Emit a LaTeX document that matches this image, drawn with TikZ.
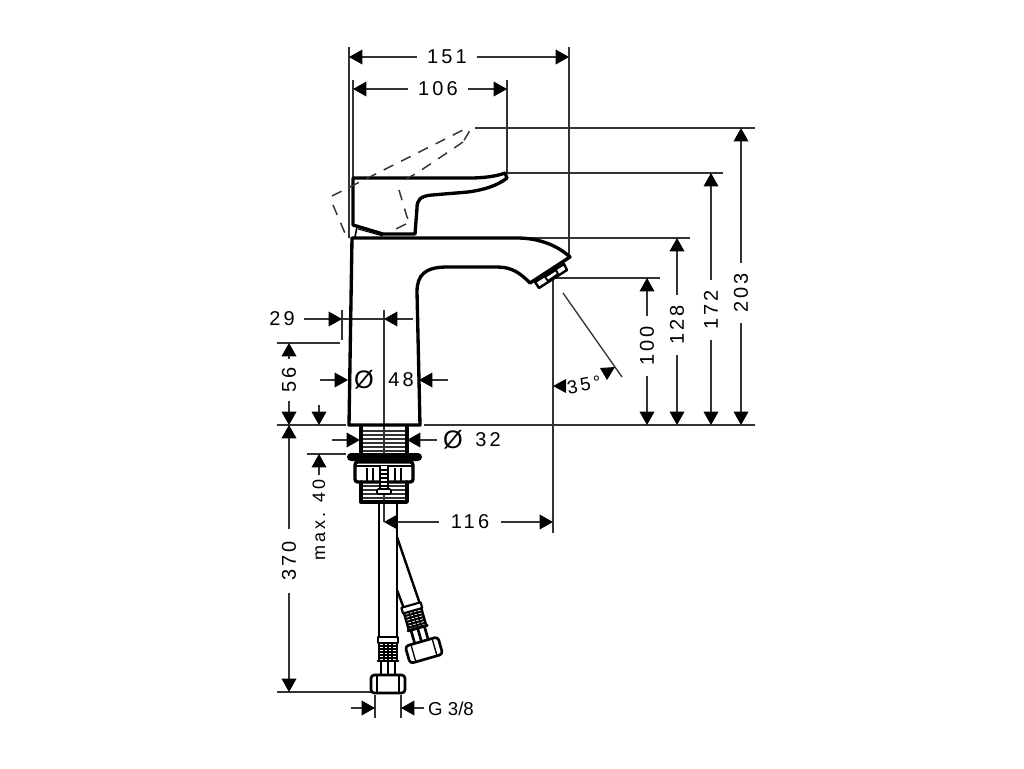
\documentclass[tikz,border=0pt]{standalone}
\usepackage{fontspec}
\setmainfont[LetterSpace=16]{Liberation Sans}
\newfontfamily\plainfont{Liberation Sans}
\usetikzlibrary{arrows.meta}
\definecolor{dimgray}{HTML}{333333}
\tikzset{
 x=0.75pt,y=-0.75pt,
 outline/.style={line width=2.5pt,line join=round,line cap=round,black},
 thinpart/.style={line width=0.8pt,black},
 hatch/.style={line width=0.8pt,dimgray},
 thin dim/.style={line width=1pt,dimgray},
 dimline/.style={thin dim,-{Triangle[length=10pt,width=11pt,color=black]}},
 ghost/.style={line width=1.1pt,dimgray,dash pattern=on 8pt off 6.5pt},
 lbl/.style={font=\fontsize{15pt}{17pt}\selectfont,inner sep=0pt,text=black},
 lblv/.style={lbl,rotate=90},
 fitting/.pic={
  \draw[outline,line width=1.6pt,fill=white] (-10,0) -- (10,0) -- (10,6) -- (-10,6) -- cycle;
  \draw[outline,line width=1.8pt] (-9,6) -- (-9,24) (9,6) -- (9,24);
  \foreach \yy in {9,12,15,18,21} \draw[line width=1.5pt] (-9,\yy) -- (9,\yy);
  \foreach \xx in {-4,0,4} \draw[line width=1pt] (\xx,6) -- (\xx,24);
  \draw[outline,line width=2.2pt] (-10,24) -- (10,24);
  \draw[outline,line width=2pt] (-7,24) -- (-7,38) (7,24) -- (7,38) (0,24)--(0,38);
  \draw[outline,line width=2pt,fill=white,rounded corners=2.5pt] (-17,38) rectangle (17,56);
  \draw[line width=1pt] (-11,38) -- (-11,56) (11,38) -- (11,56);
 }
}
\begin{document}
\begin{tikzpicture}
\useasboundingbox (0,0) rectangle (1024,768);
% named ends of the dimension lines
\coordinate (a151l) at (349,57); \coordinate (a151r) at (569,57);
\coordinate (a106l) at (353,89); \coordinate (a106r) at (507,89);
\coordinate (a203t) at (741,128); \coordinate (a203b) at (741,425);
\coordinate (a172t) at (711,173); \coordinate (a172b) at (711,425);
\coordinate (a128t) at (677,238); \coordinate (a128b) at (677,425);
\coordinate (a100t) at (647,278); \coordinate (a100b) at (647,425);
\coordinate (a29l) at (342,319); \coordinate (a29r) at (384,319);
\coordinate (a29le) at (304,319); \coordinate (a29re) at (413,319);
\coordinate (a56t) at (289,343); \coordinate (a56b) at (289,425);
\coordinate (a370t) at (289,425); \coordinate (a370b) at (289,692);
\coordinate (a40te) at (319,405); \coordinate (a40t) at (319,425); \coordinate (a40b) at (319,454);
\coordinate (a48l) at (348,380); \coordinate (a48r) at (419,380);
\coordinate (a48le) at (320,380); \coordinate (a48re) at (448,380);
\coordinate (a32l) at (360,440); \coordinate (a32r) at (407,440);
\coordinate (a32le) at (332,440); \coordinate (a32re) at (437,440);
\coordinate (a116l) at (384,522); \coordinate (a116r) at (553,522);
\coordinate (g38l) at (375,708); \coordinate (g38r) at (401,708);
\coordinate (g38le) at (351,708); \coordinate (g38re) at (424,708);

% extension lines
\draw[thin dim] (349,47) -- (349,238);
\draw[thin dim] (569,47) -- (569,256);
\draw[thin dim] (353,80) -- (353,178);
\draw[thin dim] (507,80) -- (507,174);
\draw[thin dim] (475,128) -- (755,128);
\draw[thin dim] (507,173) -- (723,173);
\draw[thin dim] (517,238) -- (690,238);
\draw[thin dim] (553,278) -- (660,278);
\draw[thin dim] (553,278) -- (553,533);
\draw[thin dim] (277,425) -- (346,425);
\draw[thin dim] (424,425) -- (755,425);
\draw[thin dim] (277,343) -- (340,343);
\draw[thin dim] (342,310) -- (342,340);
\draw[thin dim] (384,310) -- (384,522);
\draw[thin dim] (342,319) -- (384,319);
\draw[thin dim] (307,454) -- (346,454);
\draw[thin dim] (277,692) -- (372,692);
\draw[thin dim] (375,695) -- (375,718);
\draw[thin dim] (401,695) -- (401,718);
\draw[thin dim] (563,293) -- (622,377);

% body
\draw[outline] (349,425) -- (352,238) -- (517,238)
  .. controls (540,238) and (558,246) .. (570,257) -- (530,283)
  .. controls (520,273) and (512,267) .. (497,267) -- (447,267)
  .. controls (425,267) and (417,275) .. (417,292) -- (420,425) -- cycle;
% lever
\draw[outline,fill=white] (353,178) -- (470,178)
  .. controls (485,178) and (497,176) .. (505,173) -- (507,178)
  .. controls (497,186) and (483,190) .. (468,192)
  -- (432,195) .. controls (420,196) and (417,200) .. (417,208)
  -- (415,234) -- (383,234) -- (353,225) -- cycle;
\draw[line width=1.2pt] (357,227) -- (355,237);
\draw[thinpart] (358,229) -- (383,236);
% ghost lever
\draw[ghost] (332,196) -- (467,128) -- (469,132) -- (463,142);
\draw[ghost] (463,142) -- (417,173) -- (399,183);
\draw[ghost] (399,190) -- (407,217) -- (410,222) -- (392,231);
\draw[ghost] (333,205) -- (347,238) -- (351,238);
% aerator
\draw[outline,line width=1.8pt,fill=white] (535,282) -- (564,264) -- (567,270) -- (539,288) -- cycle;
\draw[outline,line width=1.4pt,fill=white] (545,277) -- (556,270) -- (558,274) -- (548,281) -- cycle;

% shank
\fill[white] (361,427) rectangle (407,453);
\foreach \yy in {431,435,439,443,447,451} \draw[hatch] (361,\yy) -- (407,\yy);
\draw[thin dim] (384,427) -- (384,453);
\draw[outline] (361,427) -- (361,453) (407,427) -- (407,453);
% flange
\fill[black,rounded corners=3pt] (347,453) rectangle (422,461);
% nut
\draw[outline,fill=white,rounded corners=2pt] (355,462) rectangle (413,482);
\draw[line width=1.2pt] (355,466) -- (413,466);
\draw[line width=1pt] (367,468) -- (367,482) (373,468) -- (373,482)
  (395,468) -- (395,482) (401,468) -- (401,482);
% lower thread
\foreach \yy in {486,490,494,498} \draw[hatch] (361,\yy) -- (407,\yy);
\draw[outline] (361,482) -- (361,502) -- (407,502) -- (407,482);
% screw
\fill[white] (380,466) rectangle (388,489);
\draw[thinpart] (380,466) -- (380,489) (388,466) -- (388,489);
\foreach \yy in {470,474,478,482,486} \draw[thinpart] (380,\yy) -- (388,\yy);
\draw[outline,line width=1.2pt,fill=white,rounded corners=1pt] (377,489) rectangle (391,494);
% pipes
\draw[outline,line width=1.8pt] (379,503) -- (379,637) (397,503) -- (397,637);
\draw[outline,line width=1.8pt] (397,537) -- (420,604);
\draw[outline,line width=1.8pt] (397,590) -- (403,606);
\pic at (388,637) {fitting};
\pic[shift={(411,605)},rotate=16] at (0,0) {fitting};

% dimensions
\node[lbl] (n151) at (447,57) {151};
\draw[dimline] (417,57) -- (a151l);
\draw[dimline] (477,57) -- (a151r);
\node[lbl] (n106) at (438,89) {106};
\draw[dimline] (408,89) -- (a106l);
\draw[dimline] (468,89) -- (a106r);

\node[lblv] (n203) at (741,293) {203};
\draw[dimline] (n203.east) ++(0,-10) -- (a203t);
\draw[dimline] (n203.west) ++(0,10) -- (a203b);
\node[lblv] (n172) at (711,310) {172};
\draw[dimline] (n172.east) ++(0,-10) -- (a172t);
\draw[dimline] (n172.west) ++(0,10) -- (a172b);
\node[lblv] (n128) at (677,325) {128};
\draw[dimline] (n128.east) ++(0,-10) -- (a128t);
\draw[dimline] (n128.west) ++(0,10) -- (a128b);
\node[lblv] (n100) at (647,346) {100};
\draw[dimline] (n100.east) ++(0,-10) -- (a100t);
\draw[dimline] (n100.west) ++(0,10) -- (a100b);

\node[lbl] (n29) at (282,319) {29};
\draw[dimline] (a29le) -- (a29l);
\draw[dimline] (a29re) -- (a29r);
\node[lblv] (n56) at (289,380) {56};
\draw[dimline] (n56.east) ++(0,-8) -- (a56t);
\draw[dimline] (n56.west) ++(0,8) -- (a56b);
\node[lblv] (n370) at (289,561) {370};
\draw[dimline] (n370.east) ++(0,-12) -- (a370t);
\draw[dimline] (n370.west) ++(0,12) -- (a370b);
\node[lblv,font=\fontsize{13.5pt}{15pt}\selectfont] (n40) at (319,520) {max. 40};
\draw[dimline] (a40te) -- (a40t);
\draw[dimline] (319,475) -- (a40b);

\node[lbl,font=\plainfont\fontsize{19pt}{20pt}\selectfont] (n48o) at (364,380) {Ø};
\node[lbl] (n48) at (401,380) {48};
\draw[dimline] (a48le) -- (a48l);
\draw[dimline] (a48re) -- (a48r);
\node[lbl,font=\plainfont\fontsize{19pt}{20pt}\selectfont] (n32o) at (453,440) {Ø};
\node[lbl] (n32) at (488,440) {32};
\draw[dimline] (a32le) -- (a32l);
\draw[dimline] (a32re) -- (a32r);

\node[lbl] (n116) at (470,522) {116};
\draw[dimline] (n116.west) ++(-12,0) -- (a116l);
\draw[dimline] (n116.east) ++(12,0) -- (a116r);

\node[lbl,rotate=10,font=\fontsize{14pt}{16pt}\selectfont] (n35) at (584,385) {35°};
\fill[black] (553,386) -- (566,379) -- (566,393) -- cycle;
\fill[black] (600,368) -- (615,367) -- (607,380) -- cycle;

\node[lbl,font=\plainfont\fontsize{14pt}{16pt}\selectfont] (ng) at (451,709) {G 3/8};
\draw[dimline] (g38le) -- (g38l);
\draw[dimline] (g38re) -- (g38r);
\end{tikzpicture}
\end{document}
